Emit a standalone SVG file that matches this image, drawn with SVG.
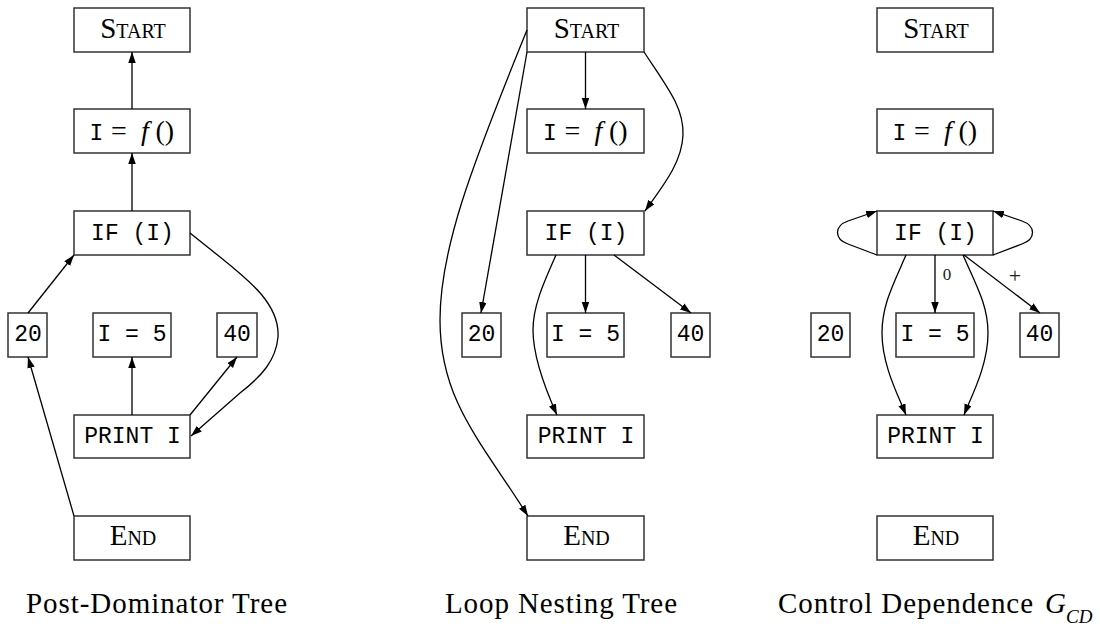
<svg xmlns="http://www.w3.org/2000/svg" width="1100" height="626" viewBox="0 0 1100 626">
<style>
.box{fill:#fff;stroke:#333;stroke-width:1.5}
.tt{font-family:"Liberation Mono",monospace;font-size:23px;fill:#000;text-anchor:middle}
.sc{font-family:"Liberation Serif",serif;font-size:29px;fill:#000;text-anchor:middle}
.sm{font-size:20px}
.rm{font-family:"Liberation Serif",serif;font-size:28px;fill:#000}
.it{font-family:"Liberation Serif",serif;font-size:28px;font-style:italic;fill:#000}
.ttl{font-family:"Liberation Mono",monospace;font-size:23px;fill:#000}
.cap{font-family:"Liberation Serif",serif;font-size:29px;fill:#000}
.sub{font-family:"Liberation Serif",serif;font-size:19px;font-style:italic;fill:#000}
.lbl{font-family:"Liberation Serif",serif;fill:#222;text-anchor:middle}
.l0{font-size:17px}
.lp{font-size:22px}
.edge{fill:none;stroke:#000;stroke-width:1.3}
</style>
<defs>
<marker id="ah" markerUnits="userSpaceOnUse" markerWidth="12" markerHeight="8" refX="11" refY="3.75" orient="auto">
<path d="M0,0 L11,3.75 L0,7.5 z" fill="#000"/>
</marker>
</defs>

<!-- Panel 1: Post-Dominator Tree -->
<g id="p1-start"><rect class="box" x="74" y="8" width="116" height="44"/><text class="sc" x="133" y="37.5">S<tspan class="sm">TART</tspan></text></g>
<g id="p1-assign"><rect class="box" x="74" y="109" width="116" height="44"/><text y="139.5"><tspan class="ttl" x="89.5">I</tspan><tspan class="rm" x="111">=</tspan><tspan class="it" x="141">f</tspan><tspan class="rm" x="155.5">()</tspan></text></g>
<g id="p1-if"><rect class="box" x="74" y="211" width="116" height="44"/><text class="tt" x="132.5" y="240">IF (I)</text></g>
<g id="p1-20"><rect class="box" x="8" y="313" width="39" height="44"/><text class="tt" x="28" y="341">20</text></g>
<g id="p1-i5"><rect class="box" x="93" y="313" width="78" height="44"/><text class="tt" x="132" y="341">I = 5</text></g>
<g id="p1-40"><rect class="box" x="217" y="313" width="40" height="44"/><text class="tt" x="237" y="341">40</text></g>
<g id="p1-print"><rect class="box" x="74" y="415" width="116" height="43"/><text class="tt" x="132.5" y="443">PRINT I</text></g>
<g id="p1-end"><rect class="box" x="74" y="516" width="116" height="44"/><text class="sc" x="133" y="545">E<tspan class="sm">ND</tspan></text></g>

<!-- Panel 2: Loop Nesting Tree -->
<g id="p2-start"><rect class="box" x="527" y="8" width="117" height="44"/><text class="sc" x="586.5" y="37.5">S<tspan class="sm">TART</tspan></text></g>
<g id="p2-assign"><rect class="box" x="527" y="109" width="117" height="44"/><text y="139.5"><tspan class="ttl" x="543">I</tspan><tspan class="rm" x="564.5">=</tspan><tspan class="it" x="594.5">f</tspan><tspan class="rm" x="609">()</tspan></text></g>
<g id="p2-if"><rect class="box" x="527" y="211" width="117" height="44"/><text class="tt" x="586" y="240">IF (I)</text></g>
<g id="p2-20"><rect class="box" x="462" y="313" width="39" height="44"/><text class="tt" x="481.5" y="341">20</text></g>
<g id="p2-i5"><rect class="box" x="547" y="313" width="77" height="44"/><text class="tt" x="585.5" y="341">I = 5</text></g>
<g id="p2-40"><rect class="box" x="671" y="313" width="39" height="44"/><text class="tt" x="690.5" y="341">40</text></g>
<g id="p2-print"><rect class="box" x="527" y="415" width="117" height="43"/><text class="tt" x="586" y="443">PRINT I</text></g>
<g id="p2-end"><rect class="box" x="527" y="516" width="117" height="44"/><text class="sc" x="586.5" y="545">E<tspan class="sm">ND</tspan></text></g>

<!-- Panel 3: Control Dependence -->
<g id="p3-start"><rect class="box" x="877" y="8" width="116" height="44"/><text class="sc" x="936" y="37.5">S<tspan class="sm">TART</tspan></text></g>
<g id="p3-assign"><rect class="box" x="877" y="109" width="116" height="44"/><text y="139.5"><tspan class="ttl" x="892.5">I</tspan><tspan class="rm" x="914">=</tspan><tspan class="it" x="944">f</tspan><tspan class="rm" x="958.5">()</tspan></text></g>
<g id="p3-if"><rect class="box" x="877" y="211" width="116" height="44"/><text class="tt" x="935.5" y="240">IF (I)</text></g>
<g id="p3-20"><rect class="box" x="811" y="313" width="39" height="44"/><text class="tt" x="830.5" y="341">20</text></g>
<g id="p3-i5"><rect class="box" x="896" y="313" width="78" height="44"/><text class="tt" x="935" y="341">I = 5</text></g>
<g id="p3-40"><rect class="box" x="1020" y="313" width="39" height="44"/><text class="tt" x="1039.5" y="341">40</text></g>
<g id="p3-print"><rect class="box" x="877" y="415" width="116" height="43"/><text class="tt" x="935.5" y="443">PRINT I</text></g>
<g id="p3-end"><rect class="box" x="877" y="516" width="116" height="44"/><text class="sc" x="936" y="545">E<tspan class="sm">ND</tspan></text></g>

<g id="connectors">
<!-- panel 1 -->
<path class="edge" marker-end="url(#ah)" d="M132,109 L132,52"/>
<path class="edge" marker-end="url(#ah)" d="M132,211 L132,153"/>
<path class="edge" marker-end="url(#ah)" d="M28,313 L74,255"/>
<path class="edge" marker-end="url(#ah)" d="M74,516 L28,357"/>
<path class="edge" marker-end="url(#ah)" d="M132,415 L132,357"/>
<path class="edge" marker-end="url(#ah)" d="M190,415 L237,357"/>
<path class="edge" marker-end="url(#ah)" d="M190,233 L220,257 C250,281 280,305 278,337 C276,360 262,376 240,393 L191,436"/>
<!-- panel 2 -->
<path class="edge" marker-end="url(#ah)" d="M585.5,52 L585.5,109"/>
<path class="edge" marker-end="url(#ah)" d="M644,52 C668,88 684,108 683,135 C682,163 662,187 645,211"/>
<path class="edge" marker-end="url(#ah)" d="M527,30 C470,170 440,250 440,320 C440,400 480,440 528,516"/>
<path class="edge" marker-end="url(#ah)" d="M527,52 L481,313"/>
<path class="edge" marker-end="url(#ah)" d="M585.5,255 L585.5,313"/>
<path class="edge" marker-end="url(#ah)" d="M614,255 L691,313"/>
<path class="edge" marker-end="url(#ah)" d="M556,255 C545,280 533,305 533,330 C533,360 548,395 557,415"/>
<!-- panel 3 -->
<path class="edge" marker-end="url(#ah)" d="M877,255 L848,244 C834,239 834,226 848,221 L877,211"/>
<path class="edge" marker-end="url(#ah)" d="M993,255 L1022,244 C1036,239 1036,226 1022,221 L993,211"/>
<path class="edge" marker-end="url(#ah)" d="M935,255 L935,313"/>
<path class="edge" marker-end="url(#ah)" d="M964,255 L1040,313"/>
<path class="edge" marker-end="url(#ah)" d="M906,255 C893,285 882,305 882,333 C882,365 898,395 906,415"/>
<path class="edge" marker-end="url(#ah)" d="M963,255 C976,285 988,305 988,333 C988,365 972,395 964,415"/>
<text class="lbl l0" x="947" y="280">0</text>
<text class="lbl lp" x="1015" y="283">+</text>
</g>

<g id="captions">
<text class="cap" x="26" y="613" textLength="261" lengthAdjust="spacing">Post-Dominator Tree</text>
<text class="cap" x="445" y="613" textLength="232" lengthAdjust="spacing">Loop Nesting Tree</text>
<text class="cap" x="778" y="613" textLength="255" lengthAdjust="spacing">Control Dependence</text>
<text class="cap" x="1045" y="613" font-style="italic">G</text>
<text class="sub" x="1066" y="623">CD</text>
</g>
</svg>
